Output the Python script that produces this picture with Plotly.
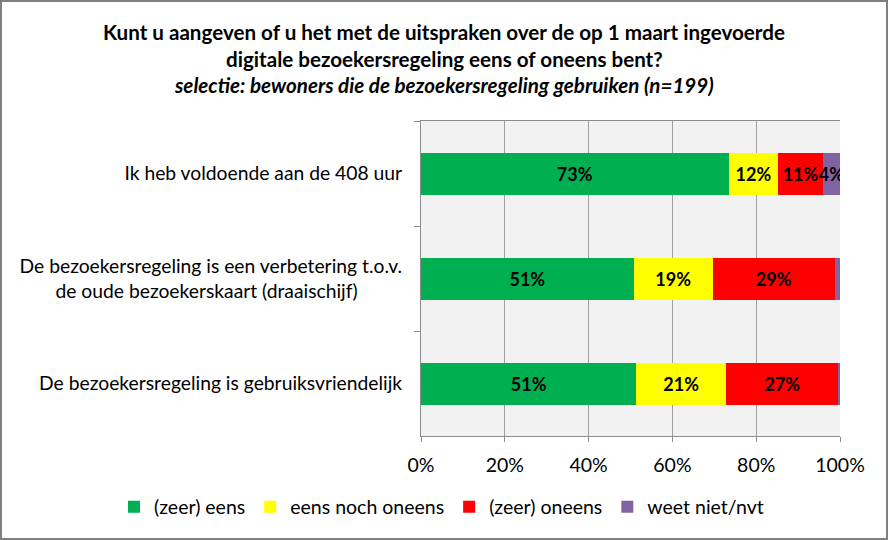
import plotly.graph_objects as go

statements = ['Ik heb voldoende aan de 408 uur',
              'De bezoekersregeling is een verbetering t.o.v.<br>de oude bezoekerskaart (draaischijf)' + '\u00a0' * 9,
              'De bezoekersregeling is gebruiksvriendelijk']
answers = ['(zeer) eens', 'eens noch oneens', '(zeer) oneens', 'weet niet/nvt']
colors = ['#00B050', '#FFFF00', '#FF0000', '#8064A2']

zeer_eens = [73.4, 50.8, 51.4]
eens_noch_oneens = [11.9, 18.8, 21.4]
zeer_oneens = [10.6, 29.2, 26.9]
weet_niet = [4.1, 1.2, 0.3]

x_ticks = [0, 20, 40, 60, 80, 100]
x_ticklabels = ['0%', '20%', '40%', '60%', '80%', '100%']

FONT = 'Lato'
L, R, T, B = 421, 48, 121, 104
PW, PH = 888 - L - R, 540 - T - B

def px_x(px):
    return (px - L) / PW

def px_y(py):
    return 1 - (py - T) / PH

fig = go.Figure()

for name, vals, col in zip(answers, [zeer_eens, eens_noch_oneens, zeer_oneens, weet_niet], colors):
    # small slices get no label, like the original
    txt = [str(round(v)) + '%' if v >= 2 else '' for v in vals]
    fig.add_trace(go.Bar(y=statements, x=vals, name=name, orientation='h', marker=dict(color=col, line=dict(width=0)),
                         text=txt, textposition='inside', insidetextanchor='middle', constraintext='none', textangle=0,
                         textfont=dict(family=FONT, size=18, color='black', weight='bold'), width=0.4))

fig.update_layout(barmode='stack', width=888, height=540, margin=dict(l=L, r=R, t=T, b=B),
                  paper_bgcolor='white', plot_bgcolor='#F2F2F2', font=dict(family=FONT, size=19, color='black'))

fig.update_xaxes(range=[0, 100], tickvals=x_ticks, ticktext=x_ticklabels, showgrid=True, gridcolor='#A0A0A0', gridwidth=1,
                 showline=True, linecolor='#8C8C8C', linewidth=1, mirror=True, ticks='outside', ticklen=5, tickcolor='#8C8C8C',
                 zeroline=False, tickfont=dict(size=19.5), ticklabelstandoff=7)
fig.update_yaxes(autorange='reversed', tickson='boundaries', ticks='outside', ticklen=6, tickcolor='#8C8C8C',
                 showline=True, linecolor='#8C8C8C', linewidth=1, showgrid=False, ticklabelstandoff=14, tickfont=dict(size=19.3))

fig.update_layout(legend=dict(orientation='h', xref='paper', yref='paper', x=px_x(114), xanchor='left', y=px_y(507), yanchor='middle',
                              traceorder='normal', font=dict(size=19.5), bgcolor='rgba(0,0,0,0)', itemwidth=30))

# title lines
title_lines = [('<b>Kunt u aangeven of u het met de uitspraken over de op 1 maart ingevoerde</b>', 32),
               ('<b>digitale bezoekersregeling eens of oneens bent?</b>', 59),
               ('<b><i>selectie: bewoners die de bezoekersregeling gebruiken (n=199)</i></b>', 85)]
for t, py in title_lines:
    fig.add_annotation(text=t, xref='paper', yref='paper', x=px_x(444), y=px_y(py),
                       xanchor='center', yanchor='middle', showarrow=False, font=dict(size=20.6, family=FONT))

# outer chart border
fig.add_shape(type='rect', xref='paper', yref='paper', x0=px_x(1), x1=px_x(887), y0=px_y(539), y1=px_y(1),
              line=dict(color='#7F7F7F', width=2))

# the page has a default body margin, drop it so the chart sits at the window origin
fig.write_html('out.html', config={'displayModeBar': False}, post_script="document.body.style.margin='0';")
